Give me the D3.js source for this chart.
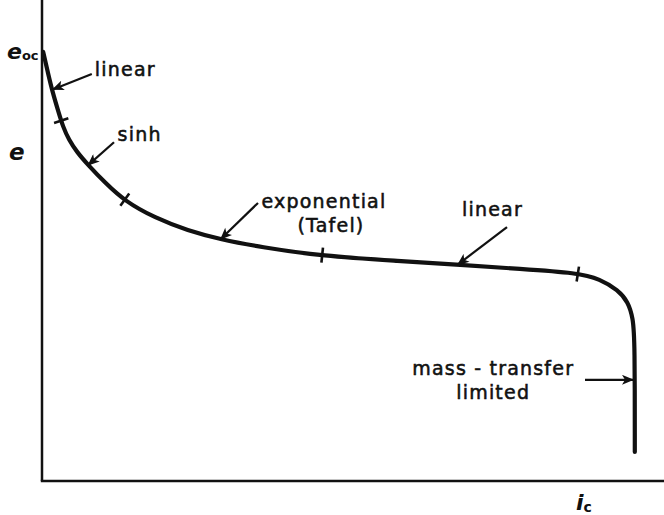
<!DOCTYPE html>
<html>
<head>
<meta charset="utf-8">
<script src="https://cdn.jsdelivr.net/npm/d3@7"></script>
<style>
  html, body { margin: 0; padding: 0; background: #fff; }
  svg { display: block; }
  .lbl { font-family: "DejaVu Sans", sans-serif; font-size: 19px; letter-spacing: 1.2px; fill: #111; stroke: #111; stroke-width: 0.55px; }
  .sym { font-family: "DejaVu Sans", sans-serif; font-weight: bold; font-style: italic; fill: #111; }
</style>
</head>
<body>
<script>
// Polarization curve: cell potential e against current density i_c (normalised units)
const current   = [0.002, 0.010, 0.018, 0.027, 0.035, 0.045, 0.058, 0.077, 0.105, 0.138, 0.188, 0.243, 0.298, 0.363, 0.467, 0.597, 0.697, 0.797, 0.893, 0.930, 0.960, 0.977, 0.985, 0.988, 0.988];
const potential = [0.975, 0.927, 0.882, 0.841, 0.805, 0.775, 0.748, 0.718, 0.678, 0.636, 0.598, 0.569, 0.549, 0.532, 0.511, 0.500, 0.491, 0.482, 0.473, 0.459, 0.434, 0.407, 0.370, 0.320, 0.066];

// Boundaries between the kinetic regimes (current values)
const regimeBounds = [0.032, 0.138, 0.467, 0.893];

// Regime labels: text lines, anchor, and arrow (tail -> tip) in data units
const labelText   = [["linear"], ["sinh"], ["exponential", "(Tafel)"], ["linear"], ["mass - transfer", "limited"]];
const labelAnchor = ["start", "start", "middle", "start", "middle"];
const labelI      = [0.088, 0.126, 0.470, 0.700, 0.752];
const labelE      = [0.921, 0.773, 0.620, 0.602, 0.240];
const lineShift   = [[0], [0], [0, 7], [0], [0, 0]];
const arrowTailI  = [0.083, 0.120, 0.360, 0.775, 0.905];
const arrowTailE  = [0.925, 0.770, 0.632, 0.577, 0.230];
const arrowTipI   = [0.018, 0.077, 0.298, 0.693, 0.985];
const arrowTipE   = [0.890, 0.718, 0.550, 0.492, 0.230];

const W = 664, H = 515;
const x = d3.scaleLinear().domain([0, 1]).range([42, 642]);
const y = d3.scaleLinear().domain([0, 1]).range([481, 41]);

const svg = d3.select("body").append("svg").attr("width", W).attr("height", H);
const ink = "#111";

svg.append("defs").append("marker")
  .attr("id", "head").attr("viewBox", "0 0 12 10")
  .attr("refX", 11).attr("refY", 5)
  .attr("markerWidth", 13).attr("markerHeight", 10)
  .attr("markerUnits", "userSpaceOnUse").attr("orient", "auto")
  .append("path").attr("d", "M0,0 L12,5 L0,10 L3,5 Z").attr("fill", ink);

// Axes (no numeric scale on either)
svg.append("line").attr("x1", x(0)).attr("y1", y(0)).attr("x2", x(0)).attr("y2", 0)
  .attr("stroke", ink).attr("stroke-width", 2.5);
svg.append("line").attr("x1", x(0) - 1.2).attr("y1", y(0)).attr("x2", W).attr("y2", y(0))
  .attr("stroke", ink).attr("stroke-width", 2.5);

// Curve
const pts = current.map((c, k) => [c, potential[k]]);
const line = d3.line().x(d => x(d[0])).y(d => y(d[1])).curve(d3.curveBasis);
const curve = svg.append("path").datum(pts).attr("d", line)
  .attr("fill", "none").attr("stroke", ink).attr("stroke-width", 4.2)
  .attr("stroke-linecap", "round").attr("stroke-linejoin", "round");

// Short cross marks at the regime boundaries, perpendicular to the curve
const node = curve.node();
const total = node.getTotalLength();
function lengthAtX(px) {
  let lo = 0, hi = total;
  for (let k = 0; k < 40; k++) {
    const mid = (lo + hi) / 2;
    if (node.getPointAtLength(mid).x < px) lo = mid; else hi = mid;
  }
  return (lo + hi) / 2;
}
regimeBounds.forEach(b => {
  const L = lengthAtX(x(b));
  const p = node.getPointAtLength(L);
  const a = node.getPointAtLength(Math.max(0, L - 3));
  const c = node.getPointAtLength(Math.min(total, L + 3));
  let dx = c.x - a.x, dy = c.y - a.y;
  const n = Math.hypot(dx, dy); dx /= n; dy /= n;
  const h = 7.5;
  svg.append("line")
    .attr("x1", p.x - dy * h).attr("y1", p.y + dx * h)
    .attr("x2", p.x + dy * h).attr("y2", p.y - dx * h)
    .attr("stroke", ink).attr("stroke-width", 2.6);
});

// Labels with arrows pointing at the curve
labelText.forEach((lines, k) => {
  svg.append("line")
    .attr("x1", x(arrowTailI[k])).attr("y1", y(arrowTailE[k]))
    .attr("x2", x(arrowTipI[k])).attr("y2", y(arrowTipE[k]))
    .attr("stroke", ink).attr("stroke-width", 2.2)
    .attr("marker-end", "url(#head)");
  const t = svg.append("text").attr("class", "lbl")
    .attr("x", x(labelI[k])).attr("y", y(labelE[k]))
    .attr("text-anchor", labelAnchor[k]);
  lines.forEach((s, j) => {
    t.append("tspan").attr("x", x(labelI[k]) + lineShift[k][j]).attr("dy", j === 0 ? 0 : 24).text(s);
  });
});

// Axis symbols
const eoc = svg.append("text").attr("class", "sym").attr("x", 7).attr("y", 59).style("font-size", "22px");
eoc.append("tspan").text("e");
eoc.append("tspan").attr("dy", 1).style("font-size", "13px").style("font-style", "normal").text("oc");

svg.append("text").attr("class", "sym").attr("x", 9).attr("y", 160).style("font-size", "23px").text("e");

const ic = svg.append("text").attr("class", "sym").attr("x", 576).attr("y", 510).style("font-size", "22px");
ic.append("tspan").text("i");
ic.append("tspan").attr("dy", 2).style("font-size", "14px").style("font-style", "normal").text("c");
</script>
</body>
</html>
